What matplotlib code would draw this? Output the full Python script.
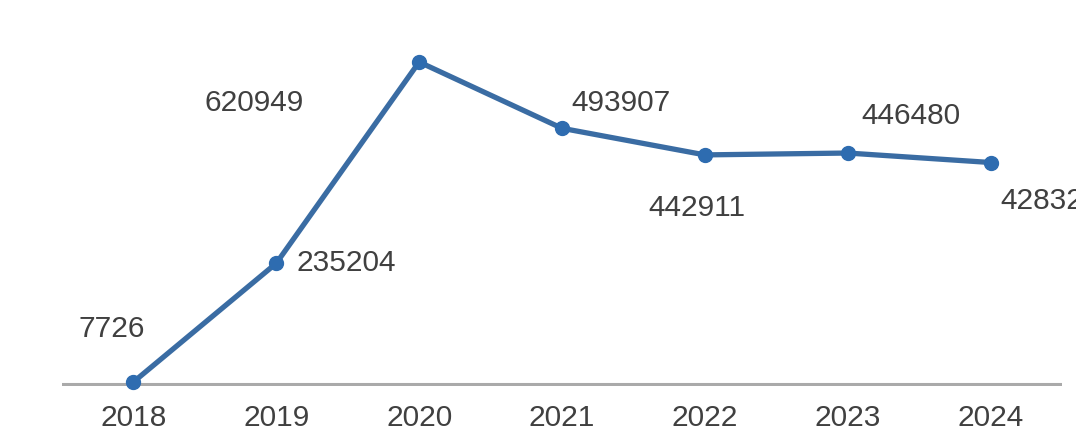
import matplotlib
matplotlib.use("Agg")
import matplotlib.pyplot as plt

years = ["2018", "2019", "2020", "2021", "2022", "2023", "2024"]
values = [7726, 235204, 620949, 493907, 442911, 446480, 428322]

# label offsets in pixels (dx, dy, ha)
label_offsets = [(-22, 53, "center"), (20, 0, "left"), (-165, -41, "center"),
                 (9, 25, "left"), (-8, -53, "center"), (14, 37, "left"), (10, -38, "left")]

plt.rcParams['font.family'] = ['Liberation Sans', 'DejaVu Sans']

W, H = 1076, 441
fig = plt.figure(figsize=(W / 100, H / 100), dpi=100)
x0, x1 = 62, 1062
ytop, ybot = 62, 386
ax = fig.add_axes([x0 / W, (H - ybot) / H, (x1 - x0) / W, (ybot - ytop) / H])
ax.set_facecolor("none")

xs = list(range(len(years)))
ax.plot(xs, values, color="#3a6ca3", lw=3.8, marker="o", ms=10,
        markerfacecolor="#2e6cb0", markeredgecolor="#2e6cb0", clip_on=False, zorder=3,
        solid_capstyle="round")

for x, v, (dx, dy, ha) in zip(xs, values, label_offsets):
    ax.annotate(str(v), (x, v), xytext=(dx, dy), textcoords="offset pixels",
                ha=ha, va="center", fontsize=21.5, color="#404040",
                annotation_clip=False)

ax.set_xlim(-0.5, 6.5)
ax.set_ylim(0, 620949)
ax.axhline(3500, color="#aaaaaa", lw=2.2, zorder=1)
for s in ax.spines.values():
    s.set_visible(False)
ax.set_yticks([])
ax.set_xticks(xs)
ax.set_xticklabels(years, fontsize=21.5, color="#404040")
ax.tick_params(axis="x", length=0, pad=13)

fig.savefig("out.png", dpi=100)
